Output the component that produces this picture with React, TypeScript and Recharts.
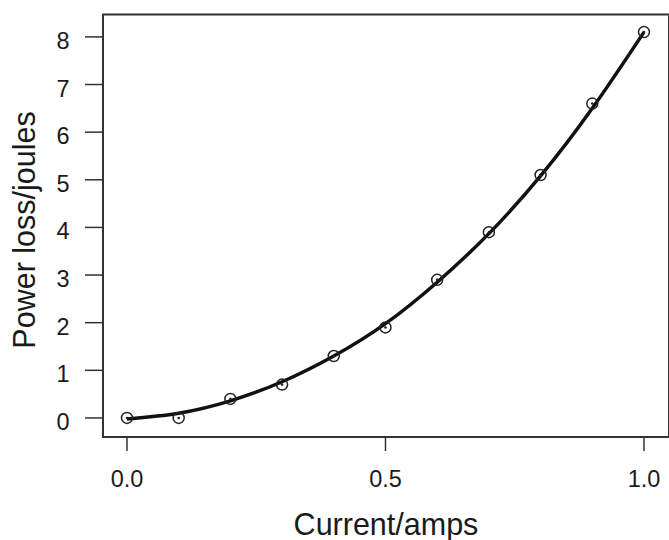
import React from "react";
import {
  ComposedChart,
  Line,
  Scatter,
  XAxis,
  YAxis,
  ReferenceArea,
} from "recharts";

// Observed points
const currentAmps = [0, 0.1, 0.2, 0.3, 0.4, 0.5, 0.6, 0.7, 0.8, 0.9, 1.0];
const powerLoss = [0, 0, 0.4, 0.7, 1.3, 1.9, 2.9, 3.9, 5.1, 6.6, 8.1];

// Fitted curve
const curveX = [0, 0.1, 0.2, 0.3, 0.4, 0.5, 0.6, 0.7, 0.8, 0.9, 1.0];
const curveY = [-0.02, 0.1, 0.36, 0.76, 1.3, 1.98, 2.85, 3.87, 5.08, 6.5, 8.1];

const xTicks = [0, 0.5, 1.0];
const yTicks = [0, 1, 2, 3, 4, 5, 6, 7, 8];
const xDomain: [number, number] = [-0.0464, 1.0484];
const yDomain: [number, number] = [-0.4, 8.47];

const xTitle = "Current/amps";
const yTitle = "Power loss/joules";

const points = currentAmps.map((x, i) => ({ x, y: powerLoss[i] }));
const curve = curveX.map((x, i) => ({ x, fit: curveY[i] }));

const FONT = "'Liberation Sans', Arial, Helvetica, sans-serif";
const INK = "#1a1a1a";

const XTick = (props: any) => {
  const { x, y, payload } = props;
  return (
    <text x={x} y={y} dy={16.5} textAnchor="middle" fontSize={23.5} fontFamily={FONT} fill={INK}>
      {Number(payload.value).toFixed(1)}
    </text>
  );
};

const YTick = (props: any) => {
  const { x, y, payload } = props;
  return (
    <text x={x} y={y} dy={12} textAnchor="end" fontSize={23.5} fontFamily={FONT} fill={INK}>
      {payload.value}
    </text>
  );
};

const PointShape = (props: any) => {
  const { cx, cy } = props;
  return (
    <g>
      <circle cx={cx} cy={cy} r={5.5} fill="none" stroke="#222" strokeWidth={1.5} />
      <circle cx={cx} cy={cy} r={1.3} fill="#222" />
    </g>
  );
};

export default function App() {
  return (
    <div style={{ position: "absolute", left: 0, top: 0, background: "#fff" }}>
      <ComposedChart
        width={669}
        height={540}
        margin={{ top: 14.5, right: 0, bottom: 0, left: 0 }}
      >
        <XAxis
          dataKey="x"
          type="number"
          domain={xDomain}
          allowDataOverflow
          ticks={xTicks}
          tick={<XTick />}
          tickSize={14}
          tickMargin={19}
          tickLine={{ stroke: "#333", strokeWidth: 1.5 }}
          axisLine={false}
          height={103}
          label={(p: any) => {
            const vb = p.viewBox || {};
            return (
              <text
                x={vb.x + vb.width / 2}
                y={535}
                textAnchor="middle"
                fontSize={30.5}
                fontFamily={FONT}
                fill={INK}
              >
                {xTitle}
              </text>
            );
          }}
        />
        <YAxis
          type="number"
          domain={yDomain}
          allowDataOverflow
          ticks={yTicks}
          tick={<YTick />}
          tickSize={18}
          tickMargin={15.5}
          tickLine={{ stroke: "#333", strokeWidth: 1.5 }}
          axisLine={false}
          width={103}
          label={(p: any) => {
            const cy = 230;
            const cx = 35;
            return (
              <text
                x={cx}
                y={cy}
                textAnchor="middle"
                fontSize={30.5}
                fontFamily={FONT}
                fill={INK}
                transform={`rotate(-90, ${cx}, ${cy})`}
              >
                {yTitle}
              </text>
            );
          }}
        />
        <ReferenceArea
          x1={xDomain[0]}
          x2={xDomain[1]}
          y1={yDomain[0]}
          y2={yDomain[1]}
          fill="none"
          fillOpacity={0}
          stroke="#333"
          strokeWidth={2}
          ifOverflow="visible"
        />
        <Line
          data={curve}
          dataKey="fit"
          type="natural"
          stroke="#111"
          strokeWidth={3.5}
          dot={false}
          activeDot={false}
          isAnimationActive={false}
        />
        <Scatter
          data={points}
          dataKey="y"
          shape={<PointShape />}
          isAnimationActive={false}
        />
      </ComposedChart>
    </div>
  );
}
